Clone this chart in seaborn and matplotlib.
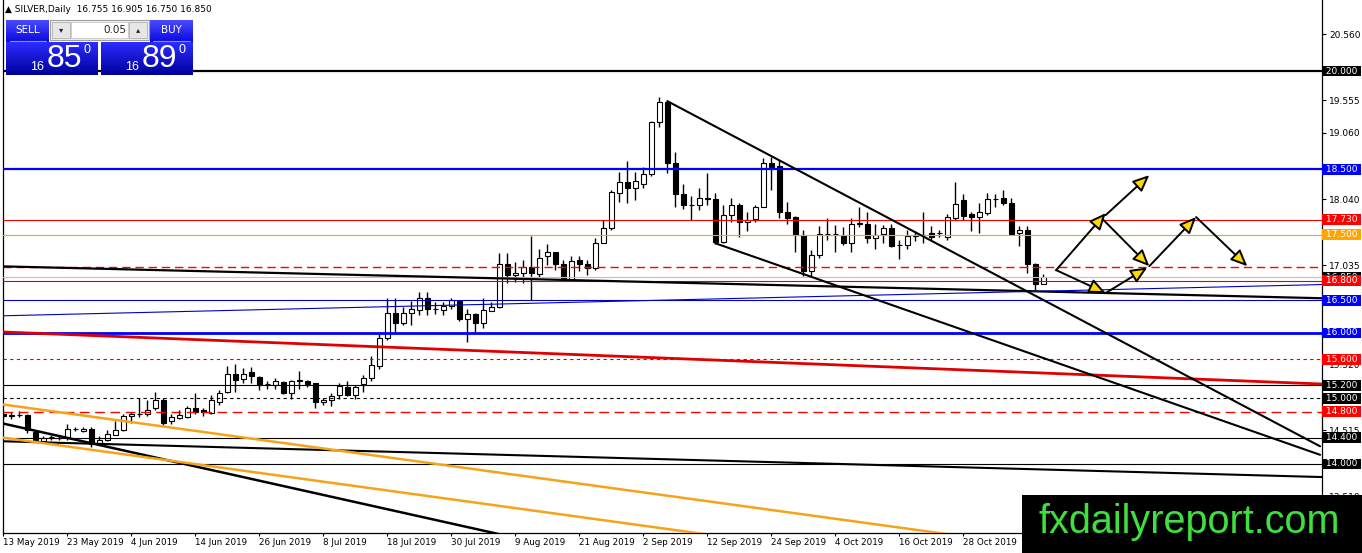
import numpy as np
import pandas as pd
import seaborn as sns
import matplotlib.pyplot as plt
from matplotlib.patches import Rectangle
from matplotlib.colors import LinearSegmentedColormap

# daily OHLC, SILVER, 13 May 2019 .. 11 Nov 2019
opens = [14.76, 14.74, 14.75, 14.75, 14.49, 14.35, 14.41, 14.40, 14.39, 14.53,
         14.51, 14.54, 14.31, 14.37, 14.45, 14.52, 14.73, 14.76, 14.76, 14.85,
         14.97, 14.65, 14.70, 14.71, 14.85, 14.82, 14.78, 14.95, 15.10, 15.37,
         15.29, 15.40, 15.33, 15.22, 15.21, 15.25, 15.09, 15.27, 15.27, 15.23,
         14.94, 14.98, 15.05, 15.18, 15.05, 15.22, 15.32, 15.50, 15.92, 16.30,
         16.15, 16.30, 16.35, 16.54, 16.36, 16.35, 16.41, 16.49, 16.21, 16.29,
         16.15, 16.34, 16.39, 17.06, 16.88, 16.92, 17.00, 16.90, 17.17, 17.23,
         17.06, 16.82, 17.11, 17.06, 16.99, 17.38, 17.61, 18.13, 18.31, 18.22,
         18.28, 18.43, 19.22, 19.53, 18.60, 18.12, 17.95, 17.96, 18.05, 18.04,
         17.39, 17.80, 17.96, 17.69, 17.74, 17.93, 18.59, 18.55, 17.85, 17.77,
         17.49, 16.94, 17.19, 17.51, 17.51, 17.48, 17.38, 17.67, 17.67, 17.45,
         17.51, 17.60, 17.34, 17.34, 17.48, 17.49, 17.52, 17.52, 17.47, 17.75,
         18.03, 17.81, 17.77, 17.83, 18.04, 18.06, 17.99, 17.52, 17.57, 17.06,
         16.755]
highs = [14.80, 14.80, 14.81, 14.77, 14.51, 14.42, 14.44, 14.43, 14.61, 14.57,
         14.57, 14.57, 14.43, 14.52, 14.66, 14.77, 14.80, 15.00, 14.97, 15.10,
         15.00, 14.77, 14.82, 14.89, 15.08, 14.85, 15.05, 15.13, 15.49, 15.53,
         15.46, 15.48, 15.34, 15.27, 15.31, 15.26, 15.28, 15.42, 15.28, 15.24,
         15.00, 15.09, 15.24, 15.26, 15.21, 15.36, 15.65, 16.00, 16.54, 16.54,
         16.39, 16.49, 16.62, 16.62, 16.48, 16.48, 16.54, 16.51, 16.36, 16.31,
         16.53, 16.48, 17.22, 17.22, 17.09, 17.12, 17.48, 17.28, 17.36, 17.24,
         17.11, 17.17, 17.18, 17.11, 17.45, 17.72, 18.18, 18.46, 18.62, 18.46,
         18.53, 19.24, 19.61, 19.54, 18.77, 18.27, 18.09, 18.21, 18.44, 18.14,
         17.95, 18.06, 17.99, 17.85, 17.95, 18.67, 18.69, 18.64, 18.00, 17.78,
         17.57, 17.27, 17.63, 17.75, 17.65, 17.62, 17.76, 17.92, 17.85, 17.67,
         17.65, 17.67, 17.42, 17.57, 17.55, 17.84, 17.63, 17.58, 17.82, 18.30,
         18.12, 17.85, 17.98, 18.14, 18.12, 18.18, 18.06, 17.63, 17.63, 17.07,
         16.905]
lows = [14.68, 14.68, 14.71, 14.47, 14.35, 14.33, 14.36, 14.37, 14.37, 14.50,
        14.49, 14.26, 14.30, 14.35, 14.44, 14.51, 14.63, 14.72, 14.73, 14.82,
        14.60, 14.61, 14.68, 14.70, 14.77, 14.73, 14.77, 14.90, 15.08, 15.10,
        15.24, 15.23, 15.13, 15.14, 15.14, 15.07, 14.99, 15.15, 15.17, 14.85,
        14.90, 14.89, 14.99, 15.04, 14.99, 15.10, 15.26, 15.45, 15.89, 16.00,
        16.12, 16.12, 16.28, 16.28, 16.29, 16.27, 16.36, 16.19, 15.87, 16.02,
        16.07, 16.33, 16.38, 16.76, 16.78, 16.77, 16.50, 16.86, 17.04, 16.96,
        16.81, 16.81, 16.94, 16.89, 16.96, 17.37, 17.58, 18.00, 17.99, 18.03,
        18.22, 18.40, 19.14, 18.44, 17.92, 17.89, 17.73, 17.88, 17.95, 17.36,
        17.38, 17.70, 17.47, 17.55, 17.70, 17.92, 18.18, 17.75, 17.67, 17.24,
        16.87, 16.87, 17.14, 17.42, 17.24, 17.34, 17.23, 17.62, 17.37, 17.29,
        17.37, 17.32, 17.13, 17.28, 17.40, 17.38, 17.42, 17.46, 17.42, 17.73,
        17.73, 17.56, 17.53, 17.80, 17.93, 17.95, 17.49, 17.33, 16.91, 16.65,
        16.750]
closes = [14.74, 14.74, 14.75, 14.52, 14.37, 14.40, 14.41, 14.40, 14.53, 14.53,
          14.54, 14.30, 14.36, 14.46, 14.52, 14.73, 14.77, 14.76, 14.83, 14.97,
          14.63, 14.71, 14.75, 14.85, 14.80, 14.79, 14.98, 15.08, 15.37, 15.28,
          15.38, 15.34, 15.21, 15.22, 15.26, 15.09, 15.26, 15.28, 15.22, 14.94,
          14.98, 15.04, 15.19, 15.05, 15.17, 15.32, 15.51, 15.93, 16.30, 16.15,
          16.30, 16.36, 16.54, 16.36, 16.36, 16.41, 16.50, 16.21, 16.29, 16.15,
          16.35, 16.39, 17.06, 16.88, 16.92, 17.00, 16.91, 17.15, 17.23, 17.06,
          16.82, 17.10, 17.06, 16.99, 17.38, 17.60, 18.15, 18.30, 18.21, 18.32,
          18.43, 19.22, 19.53, 18.60, 18.12, 17.95, 17.96, 18.06, 18.06, 17.39,
          17.80, 17.96, 17.70, 17.73, 17.92, 18.59, 18.54, 17.85, 17.76, 17.50,
          16.94, 17.19, 17.51, 17.51, 17.51, 17.38, 17.67, 17.67, 17.45, 17.50,
          17.60, 17.33, 17.34, 17.48, 17.49, 17.50, 17.47, 17.52, 17.77, 17.97,
          17.79, 17.77, 17.84, 18.04, 18.04, 17.99, 17.51, 17.57, 17.05, 16.75,
          16.850]

date_labels = ["13 May 2019", "23 May 2019", "4 Jun 2019", "14 Jun 2019",
               "26 Jun 2019", "8 Jul 2019", "18 Jul 2019", "30 Jul 2019",
               "9 Aug 2019", "21 Aug 2019", "2 Sep 2019", "12 Sep 2019",
               "24 Sep 2019", "4 Oct 2019", "16 Oct 2019", "28 Oct 2019"]

# price scale ticks that are not covered by a level box
price_ticks = [20.560, 19.555, 19.060, 18.040, 17.035, 15.520, 14.515, 13.510]

# horizontal levels
levels = [20.0, 18.5, 17.73, 17.5, 17.0, 16.85, 16.8, 16.5, 16.0, 15.6,
          15.2, 15.0, 14.8, 14.4, 14.0]
# sloping trend lines: bar index / price at both ends
trend_x0 = [-1, -1, -1, -1, -0.5, -0.5, -0.5, 83, 89]
trend_y0 = [17.02, 16.26, 16.02, 14.35, 14.63, 14.916, 14.41, 19.54, 17.37]
trend_x1 = [165, 165, 165, 165, 70, 140, 140, 164.6, 164.6]
trend_y1 = [16.53, 16.74, 15.22, 13.80, 12.71, 12.56, 12.05, 14.27, 14.14]
# projected path arrows
arrow_x0 = [131.6, 137.8, 137.4, 131.6, 137.8, 143.25, 149.1]
arrow_y0 = [16.96, 17.80, 17.74, 16.96, 16.61, 17.02, 17.77]
arrow_x1 = [137.8, 143.25, 143.25, 137.8, 143.0, 149.1, 155.5]
arrow_y1 = [17.83, 18.41, 17.02, 16.61, 17.00, 17.77, 17.02]

# label boxes on the price scale
box_prices = [20.0, 18.5, 17.73, 17.5, 16.85, 16.8, 16.5, 16.0, 15.6, 15.2,
              15.0, 14.8, 14.4, 14.0]

BLUE = "#0000ff"
RED = "#ff0000"
ORANGE = "#ffa500"

level_style = [("black", 1.6, None), (BLUE, 1.6, None), (RED, 0.8, None),
               (ORANGE, 0.8, None), (RED, 1.0, (6, 3.5)), ("#c0c0c0", 0.8, None),
               ("#e00000", 0.8, None), ("#0000c8", 0.8, None), (BLUE, 2.0, None),
               ("#e00000", 0.8, (3, 3)), ("black", 0.8, None), ("black", 0.8, (3, 3)),
               (RED, 1.0, (7, 4)), ("black", 0.8, None), ("black", 0.8, None)]
trend_style = [("black", 1.6), ("#0000c8", 0.8), ("#e00000", 2.0), ("black", 1.5),
               ("black", 1.8), ("#f5a31a", 1.8), ("#f5a31a", 1.8), ("black", 1.5),
               ("black", 1.5)]
box_colors = ["black", BLUE, RED, ORANGE, "black", RED, BLUE, BLUE, RED,
              "black", "black", RED, "black", "black"]

sns.set_theme(style="white")
plt.rcParams["font.family"] = ["DejaVu Sans"]

fig = plt.figure(figsize=(13.62, 5.53), dpi=100)
ax = fig.add_axes([3 / 1362, 20.5 / 553, 1319 / 1362, 532.5 / 553])

df = pd.DataFrame({"open": opens, "high": highs, "low": lows, "close": closes})
df["idx"] = np.arange(len(df))
up = df["close"] >= df["open"]
body_lo = np.minimum(df["open"], df["close"])
body_h = (df["close"] - df["open"]).abs().clip(lower=0.004)

ax.vlines(df["idx"], df["low"], df["high"], color="black", lw=1, zorder=3)
ax.bar(df["idx"], body_h, bottom=body_lo, width=0.62,
       color=np.where(up, "white", "black"), edgecolor="black", linewidth=0.8, zorder=4)

for p, (c, lw, dash) in zip(levels, level_style):
    ln = ax.axhline(p, color=c, lw=lw, zorder=5)
    if dash:
        ln.set_dashes(dash)

for x0, y0, x1, y1, (c, lw) in zip(trend_x0, trend_y0, trend_x1, trend_y1, trend_style):
    sns.lineplot(x=[x0, x1], y=[y0, y1], ax=ax, color=c, lw=lw, zorder=6)

for x0, y0, x1, y1 in zip(arrow_x0, arrow_y0, arrow_x1, arrow_y1):
    ax.annotate("", xy=(x1, y1), xytext=(x0, y0),
                arrowprops=dict(arrowstyle="-|>,head_length=0.5,head_width=0.22",
                                fc="#ffd800", ec="black", lw=1.4,
                                mutation_scale=20, shrinkA=0, shrinkB=0),
                zorder=7)

ax.set_xlim(-0.05, 164.84)
ax.set_ylim(12.954, 21.084)

ax.set_xticks(np.arange(len(date_labels)) * 8, date_labels)
for lbl in ax.get_xticklabels():
    lbl.set_ha("left")
ax.yaxis.tick_right()
ax.set_yticks(price_ticks, [f"{v:.3f}" for v in price_ticks])
ax.tick_params(axis="x", length=2.5, width=0.8, pad=1.5, labelsize=6.3, colors="black",
               bottom=True, direction="out")
ax.tick_params(axis="y", length=3, width=0.8, pad=2, labelsize=6.5, colors="black",
               right=True, left=False, direction="out")
ax.set_xlabel("")
ax.set_ylabel("")
ax.spines["top"].set_visible(False)
for s in ("left", "bottom", "right"):
    ax.spines[s].set_color("black")
    ax.spines[s].set_linewidth(0.9)

for p, c in zip(box_prices, box_colors):
    ax.annotate(f" {p:.3f} ", xy=(1, p), xycoords=("axes fraction", "data"),
                xytext=(0.6, 0), textcoords="offset points", ha="left", va="center",
                fontsize=6.5, color="white", annotation_clip=False, zorder=8,
                bbox=dict(boxstyle="square,pad=0.1", fc=c, ec="none"))

# overlay: trading panel, header and watermark (figure pixel space)
ov = fig.add_axes([0, 0, 1, 1], zorder=10)
ov.set_axis_off()


def grad_box(x0, y0, x1, y1, top, bottom):
    cmap = LinearSegmentedColormap.from_list("g", [top, bottom])
    ov.imshow(np.linspace(0, 1, 32).reshape(-1, 1), extent=(x0, x1, y1, y0),
              cmap=cmap, aspect="auto", interpolation="bilinear", zorder=1)


ov.text(5, 9, "\u25b2 SILVER,Daily  16.755 16.905 16.750 16.850", fontsize=6.5,
        va="center", ha="left", color="black")

grad_box(6, 20, 49, 42, "#4a4aff", "#0a0ae0")
grad_box(150, 20, 193, 42, "#4a4aff", "#0a0ae0")
grad_box(6, 42, 98, 75, "#2c2cff", "#00009c")
grad_box(101, 42, 193, 75, "#2c2cff", "#00009c")
ov.plot([10, 46], [41, 41], color="#8888ff", lw=0.8, zorder=2)
ov.plot([153, 190], [41, 41], color="#8888ff", lw=0.8, zorder=2)
ov.text(27.5, 30, "SELL", color="white", fontsize=7.5, ha="center", va="center", zorder=3)
ov.text(171.5, 30, "BUY", color="white", fontsize=7.5, ha="center", va="center", zorder=3)

ov.add_patch(Rectangle((50, 20), 99, 20, fc="#f0f0f0", ec="#a0a0a0", lw=0.8, zorder=2))
ov.add_patch(Rectangle((71, 22), 57, 16, fc="white", ec="#c8c8c8", lw=0.6, zorder=3))
ov.add_patch(Rectangle((52, 22), 18, 16, fc="#e6e6e6", ec="#b0b0b0", lw=0.6, zorder=3))
ov.add_patch(Rectangle((129, 22), 18, 16, fc="#e6e6e6", ec="#b0b0b0", lw=0.6, zorder=3))
ov.text(61, 30, "\u25be", fontsize=6, ha="center", va="center", zorder=4)
ov.text(138, 30, "\u25b4", fontsize=6, ha="center", va="center", zorder=4)
ov.text(126, 30, "0.05", fontsize=7.5, ha="right", va="center", zorder=4)

for cx, big in ((0, "85"), (95, "89")):
    ov.text(37 + cx, 67, "16", color="white", fontsize=9, ha="center", va="center",
            family="Liberation Sans", zorder=3)
    ov.text(64 + cx, 59, big, color="white", fontsize=23, ha="center", va="center",
            family="Liberation Sans", zorder=3)
    ov.text(87 + cx, 50, "0", color="white", fontsize=9, ha="center", va="center",
            family="Liberation Sans", zorder=3)

ov.add_patch(Rectangle((1022, 495), 340, 58, fc="black", ec="none", zorder=2))
ov.text(1189, 533, "fxdailyreport.com", color="#3ee03e", fontsize=28.5,
        family="Liberation Sans", ha="center", va="baseline", zorder=3)

ov.set_xlim(0, 1362)
ov.set_ylim(553, 0)

fig.savefig("out.png", dpi=100)
